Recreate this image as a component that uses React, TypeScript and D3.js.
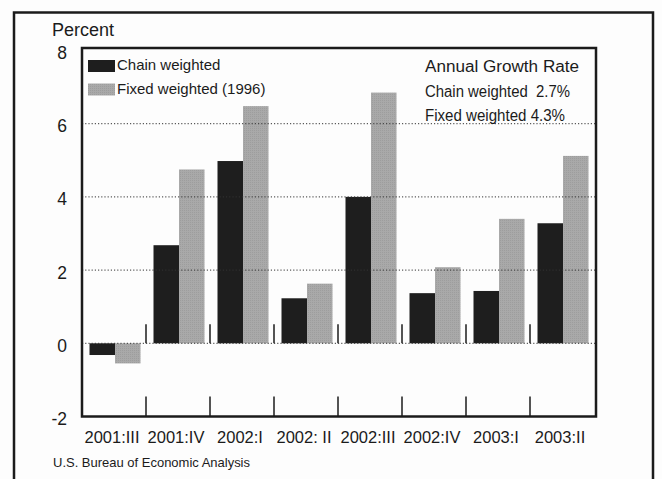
import React from "react";
import * as d3 from "d3";

const categories = ["2001:III", "2001:IV", "2002:I", "2002: II", "2002:III", "2002:IV", "2003:I", "2003:II"];
const chainWeighted = [-0.32, 2.68, 4.98, 1.23, 4.0, 1.37, 1.43, 3.28];
const fixedWeighted = [-0.55, 4.75, 6.48, 1.63, 6.85, 2.08, 3.4, 5.12];
const yTicks = [-2, 0, 2, 4, 6, 8];
const gridValues = [0, 2, 4, 6];
const seriesKeys = ["chain", "fixed"];
const seriesLabels = ["Chain weighted", "Fixed weighted (1996)"];
const annotationLines = ["Annual Growth Rate", "Chain weighted  2.7%", "Fixed weighted 4.3%"];
const annotationWidths = [154, 145, 140];

const W = 662;
const H = 479;
const FONT = "'Liberation Sans', Arial, Helvetica, sans-serif";
const INK = "#1b1b1b";
const BLACK_BAR = "#1e1e1e";
const GRAY_BAR = "#a9a9a9";

export default function App() {
  const plotLeft = 82;
  const plotRight = 596;
  const bandRight = 594;
  const y = d3.scaleLinear().domain([-2, 8]).range([416.5, 50.5]);
  const x0 = d3.scaleBand<string>().domain(categories).range([plotLeft, bandRight]).paddingInner(0).paddingOuter(0);
  const bw = x0.bandwidth();
  const x1 = d3.scaleBand<string>().domain(seriesKeys).range([7.5, bw - 5.5]).padding(0);
  const values: Record<string, number[]> = { chain: chainWeighted, fixed: fixedWeighted };
  const colors: Record<string, string> = { chain: BLACK_BAR, fixed: GRAY_BAR };
  const boxTop = 48;
  const boxBottom = y(-2);

  const boundaries = categories.slice(1).map((c) => x0(c) as number);

  return (
    <svg width={W} height={H} style={{ position: "absolute", left: 0, top: 0, background: "#fff" }} fontFamily={FONT}>
      <defs>
        <pattern id="stipple" width="2" height="2" patternUnits="userSpaceOnUse">
          <rect width="2" height="2" fill={GRAY_BAR} />
          <rect width="1" height="1" fill="#9d9d9d" />
        </pattern>
      </defs>
      <rect x={0} y={0} width={W} height={H} fill="#fdfdfd" />
      {/* outer frame */}
      <path d={`M14,${H + 5} L14,12.5 L653,12.5 L653,${H + 5}`} fill="none" stroke={INK} strokeWidth={2.5} />

      <text x={52} y={36} fontSize={18} fill={INK}>Percent</text>

      {/* y tick labels */}
      {yTicks.map((t) => (
        <text key={t} x={67} y={y(t) + 8.5} fontSize={17.5} textAnchor="end" fill={INK}>
          {t}
        </text>
      ))}

      {/* bars */}
      {categories.map((c, i) => (
        <g key={c} transform={`translate(${x0(c)},0)`}>
          {seriesKeys.map((k) => {
            const v = values[k][i];
            const top = Math.min(y(v), y(0));
            const h = Math.abs(y(v) - y(0));
            return (
              <rect key={k} x={x1(k)} y={top} width={x1.bandwidth()} height={h} fill={k === "fixed" ? "url(#stipple)" : colors[k]} />
            );
          })}
        </g>
      ))}

      {/* dotted gridlines */}
      {gridValues.map((g) => (
        <line key={g} x1={plotLeft} x2={plotRight} y1={y(g)} y2={y(g)} stroke="#333" strokeWidth={1} strokeDasharray="1.2,2" />
      ))}

      {/* category boundary ticks */}
      {boundaries.map((bx, i) => (
        <g key={i}>
          <line x1={bx} x2={bx} y1={y(0) - 19} y2={y(0)} stroke={INK} strokeWidth={1.5} />
          <line x1={bx} x2={bx} y1={boxBottom - 20} y2={boxBottom} stroke={INK} strokeWidth={1.5} />
        </g>
      ))}

      {/* plot box */}
      <rect x={plotLeft} y={boxTop} width={plotRight - plotLeft} height={boxBottom - boxTop} fill="none" stroke={INK} strokeWidth={2.5} />

      {/* category labels */}
      {categories.map((c) => (
        <text key={c} x={(x0(c) as number) + bw / 2 - 2} y={442.5} fontSize={16.5} textAnchor="middle" fill={INK}>
          {c}
        </text>
      ))}

      {/* legend */}
      {seriesKeys.map((k, i) => (
        <g key={k}>
          <rect x={88} y={60 + i * 23.5} width={27} height={12} fill={k === "fixed" ? "url(#stipple)" : colors[k]} />
          <text x={117} y={70 + i * 23.5} fontSize={15} fill={INK}>
            {seriesLabels[i]}
          </text>
        </g>
      ))}

      {/* annotation */}
      {annotationLines.map((t, i) => (
        <text
          key={i}
          x={425}
          y={72 + i * 24.5}
          fontSize={16}
          fill={INK}
          xmlSpace="preserve"
          style={{ whiteSpace: "pre" }}
          textLength={annotationWidths[i]}
          lengthAdjust="spacingAndGlyphs"
        >
          {t}
        </text>
      ))}

      <text x={53} y={467} fontSize={13} fill={INK} textLength={197} lengthAdjust="spacingAndGlyphs">
        U.S. Bureau of Economic Analysis
      </text>
    </svg>
  );
}
